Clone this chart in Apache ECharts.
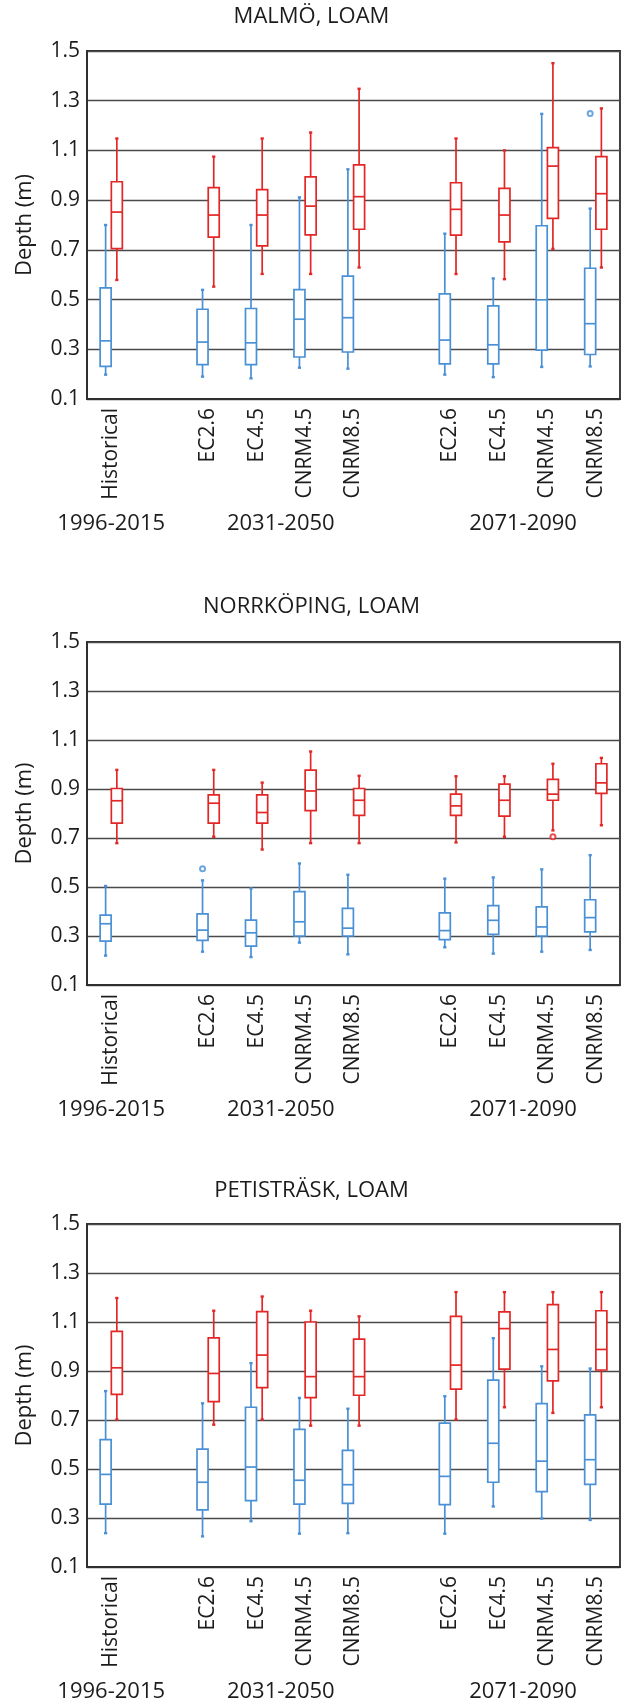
<!DOCTYPE html>
<html><head><meta charset="utf-8">
<script src="https://cdn.jsdelivr.net/npm/echarts@6/dist/echarts.min.js"></script>
<style>html,body{margin:0;padding:0;background:#fff}#c{width:623px;height:1707px}</style>
</head><body><div id="c"></div>
<script>
// ---------- data ----------
const categories = ['Historical', '', 'EC2.6', 'EC4.5', 'CNRM4.5', 'CNRM8.5', '', 'EC2.6', 'EC4.5', 'CNRM4.5', 'CNRM8.5'];
const periods = ['1996-2015', '2031-2050', '2071-2090'];
const categoryPeriod = [0, null, 1, 1, 1, 1, null, 2, 2, 2, 2];
const yTicks = [0.1, 0.3, 0.5, 0.7, 0.9, 1.1, 1.3, 1.5];
const siteTitles = ['MALMÖ, LOAM', 'NORRKÖPING, LOAM', 'PETISTRÄSK, LOAM'];

// each box: [min, Q1, median, Q3, max]; null = empty slot
const malmoBlue = [
  [0.198, 0.231, 0.334, 0.547, 0.800], null,
  [0.190, 0.238, 0.329, 0.461, 0.539], [0.183, 0.238, 0.326, 0.464, 0.800],
  [0.226, 0.269, 0.421, 0.540, 0.911], [0.222, 0.289, 0.427, 0.594, 1.024], null,
  [0.198, 0.241, 0.337, 0.523, 0.765], [0.188, 0.241, 0.318, 0.475, 0.585],
  [0.229, 0.297, 0.499, 0.797, 1.247], [0.231, 0.279, 0.403, 0.626, 0.866]
];
const malmoRed = [
  [0.579, 0.705, 0.852, 0.974, 1.148], null,
  [0.552, 0.751, 0.840, 0.950, 1.075], [0.603, 0.716, 0.840, 0.942, 1.148],
  [0.603, 0.760, 0.876, 0.994, 1.172], [0.629, 0.783, 0.914, 1.042, 1.348], null,
  [0.603, 0.759, 0.863, 0.970, 1.148], [0.582, 0.732, 0.840, 0.947, 1.100],
  [0.704, 0.827, 1.037, 1.111, 1.451], [0.629, 0.783, 0.926, 1.075, 1.269]
];
const malmoBlueOutliers = [[10, 1.249]];
const malmoRedOutliers = [];

const norrBlue = [
  [0.220, 0.279, 0.350, 0.385, 0.504], null,
  [0.236, 0.282, 0.324, 0.390, 0.527], [0.214, 0.259, 0.313, 0.365, 0.494],
  [0.273, 0.300, 0.358, 0.481, 0.596], [0.225, 0.300, 0.332, 0.413, 0.550], null,
  [0.254, 0.285, 0.322, 0.394, 0.534], [0.228, 0.307, 0.364, 0.424, 0.539],
  [0.236, 0.300, 0.337, 0.419, 0.572], [0.243, 0.317, 0.375, 0.448, 0.630]
];
const norrRed = [
  [0.679, 0.761, 0.852, 0.902, 0.978], null,
  [0.705, 0.761, 0.842, 0.876, 0.978], [0.653, 0.761, 0.804, 0.876, 0.926],
  [0.679, 0.812, 0.892, 0.977, 1.053], [0.679, 0.792, 0.854, 0.902, 0.954], null,
  [0.682, 0.792, 0.831, 0.879, 0.952], [0.705, 0.789, 0.854, 0.920, 0.952],
  [0.731, 0.854, 0.879, 0.939, 1.003], [0.752, 0.882, 0.925, 1.003, 1.027]
];
const norrBlueOutliers = [[2, 0.574]];
const norrRedOutliers = [[9, 0.705]];

const petiBlue = [
  [0.238, 0.357, 0.478, 0.620, 0.818], null,
  [0.225, 0.333, 0.446, 0.581, 0.768], [0.287, 0.371, 0.508, 0.752, 0.932],
  [0.236, 0.357, 0.454, 0.662, 0.790], [0.238, 0.360, 0.436, 0.576, 0.746], null,
  [0.236, 0.355, 0.470, 0.687, 0.797], [0.347, 0.446, 0.605, 0.863, 1.034],
  [0.298, 0.408, 0.532, 0.767, 0.919], [0.292, 0.437, 0.538, 0.721, 0.910]
];
const petiRed = [
  [0.702, 0.805, 0.913, 1.062, 1.198], null,
  [0.681, 0.775, 0.890, 1.035, 1.146], [0.702, 0.832, 0.965, 1.142, 1.204],
  [0.677, 0.791, 0.877, 1.100, 1.146], [0.677, 0.801, 0.877, 1.030, 1.123], null,
  [0.702, 0.826, 0.924, 1.123, 1.222], [0.752, 0.908, 1.073, 1.141, 1.222],
  [0.729, 0.860, 0.988, 1.171, 1.222], [0.752, 0.904, 0.988, 1.146, 1.222]
];
const petiBlueOutliers = [];
const petiRedOutliers = [];

// ---------- layout / style ----------
const BLUE = '#4a90d6';
const RED = '#e32626';
const FONT = '"Open Sans", "Liberation Sans", sans-serif';
const TXT = '#1c1c1c';
const panels = [
  { title: siteTitles[0], blue: malmoBlue, red: malmoRed, bo: malmoBlueOutliers, ro: malmoRedOutliers, top: 51, height: 348, titleTop: 6 },
  { title: siteTitles[1], blue: norrBlue, red: norrRed, bo: norrBlueOutliers, ro: norrRedOutliers, top: 642, height: 343, titleTop: 596 },
  { title: siteTitles[2], blue: petiBlue, red: petiRed, bo: petiBlueOutliers, ro: petiRedOutliers, top: 1224, height: 343, titleTop: 1180 }
];

// group label positions = mean index of categories in each period
const periodCenters = periods.map((p, k) => {
  const idx = categoryPeriod.map((v, i) => v === k ? i : null).filter(v => v !== null);
  return idx.reduce((a, b) => a + b, 0) / idx.length;
});

function toRows(arr) {
  const rows = [];
  arr.forEach((b, i) => { if (b) rows.push([i].concat(b)); });
  return rows;
}

function makeRender(side, color) {
  return function (params, api) {
    const i = api.value(0);
    const p = [1, 2, 3, 4, 5].map(d => api.coord([i, api.value(d)]));
    const x = p[0][0] + side * 5.6;
    const w = 11;
    const ls = { stroke: color, lineWidth: 1.7 };
    const cs = { stroke: color, lineWidth: 2.4 };
    return {
      type: 'group',
      children: [
        { type: 'line', shape: { x1: x, y1: p[0][1], x2: x, y2: p[1][1] }, style: ls },
        { type: 'line', shape: { x1: x, y1: p[3][1], x2: x, y2: p[4][1] }, style: ls },
        { type: 'line', shape: { x1: x - 1.6, y1: p[0][1], x2: x + 1.6, y2: p[0][1] }, style: cs },
        { type: 'line', shape: { x1: x - 1.6, y1: p[4][1], x2: x + 1.6, y2: p[4][1] }, style: cs },
        { type: 'rect', shape: { x: x - w / 2, y: p[3][1], width: w, height: p[1][1] - p[3][1] },
          style: { fill: '#ffffff', stroke: color, lineWidth: 1.7 } },
        { type: 'line', shape: { x1: x - w / 2, y1: p[2][1], x2: x + w / 2, y2: p[2][1] }, style: ls }
      ]
    };
  };
}

const option = {
  backgroundColor: '#ffffff',
  animation: false,
  title: [], grid: [], xAxis: [], yAxis: [], series: []
};

panels.forEach((pn, g) => {
  option.title.push({
    text: pn.title, left: 'center', top: pn.titleTop, padding: 0,
    textStyle: { fontFamily: FONT, fontSize: 22, fontWeight: 'normal', color: TXT }
  });
  option.grid.push({
    left: 87, right: 2, top: pn.top, height: pn.height,
    show: true, borderColor: '#2e2e2e', borderWidth: 1.8, backgroundColor: 'transparent'
  });
  option.xAxis.push({
    type: 'category', gridIndex: g, data: categories,
    axisLine: { show: true, onZero: false, lineStyle: { color: '#2e2e2e', width: 1.8 } },
    axisTick: { show: false },
    axisLabel: { rotate: 90, interval: 0, margin: 9, fontFamily: FONT, fontSize: 21, color: TXT },
    splitLine: { show: false }
  });
  option.xAxis.push({
    type: 'value', gridIndex: g, position: 'bottom', offset: 107,
    min: -0.5, max: 10.5, interval: 0.5,
    axisLine: { show: false, onZero: false }, axisTick: { show: false }, splitLine: { show: false },
    axisLabel: {
      margin: 7, fontFamily: FONT, fontSize: 22, color: TXT,
      formatter: v => { const k = periodCenters.findIndex(c => Math.abs(c - v) < 1e-6); return k >= 0 ? periods[k] : ''; }
    }
  });
  option.yAxis.push({
    type: 'value', gridIndex: g, min: 0.1, max: 1.5, interval: 0.1,
    name: 'Depth (m)', nameLocation: 'middle', nameGap: 51,
    nameTextStyle: { fontFamily: FONT, fontSize: 22, color: TXT },
    axisLine: { show: true, onZero: false, lineStyle: { color: '#2e2e2e', width: 1.8 } },
    axisTick: { show: false },
    axisLabel: {
      margin: 7, fontFamily: FONT, fontSize: 21, color: TXT,
      formatter: v => yTicks.some(t => Math.abs(t - v) < 1e-6) ? v.toFixed(1) : ''
    },
    splitLine: { show: true, lineStyle: { color: ['#4a4a4a', 'rgba(0,0,0,0)'], width: 1.4 } }
  });
  const xi = g * 2;
  [[pn.blue, -1, BLUE, 'Blue'], [pn.red, 1, RED, 'Red']].forEach(([arr, side, color, nm]) => {
    option.series.push({
      type: 'custom', name: nm, xAxisIndex: xi, yAxisIndex: g,
      data: toRows(arr), encode: { x: 0, y: [1, 2, 3, 4, 5] },
      renderItem: makeRender(side, color), z: 3
    });
  });
  [[pn.bo, -1, BLUE], [pn.ro, 1, RED]].forEach(([arr, side, color]) => {
    if (!arr.length) return;
    option.series.push({
      type: 'scatter', xAxisIndex: xi, yAxisIndex: g, data: arr,
      symbol: 'emptyCircle', symbolSize: 5, symbolOffset: [side * 5.6, 0],
      itemStyle: { color: color, borderColor: color, borderWidth: 1.5 }, z: 4
    });
  });
});

const chart = echarts.init(document.getElementById('c'), null, { renderer: 'canvas' });
chart.setOption(option);
</script>
</body></html>
